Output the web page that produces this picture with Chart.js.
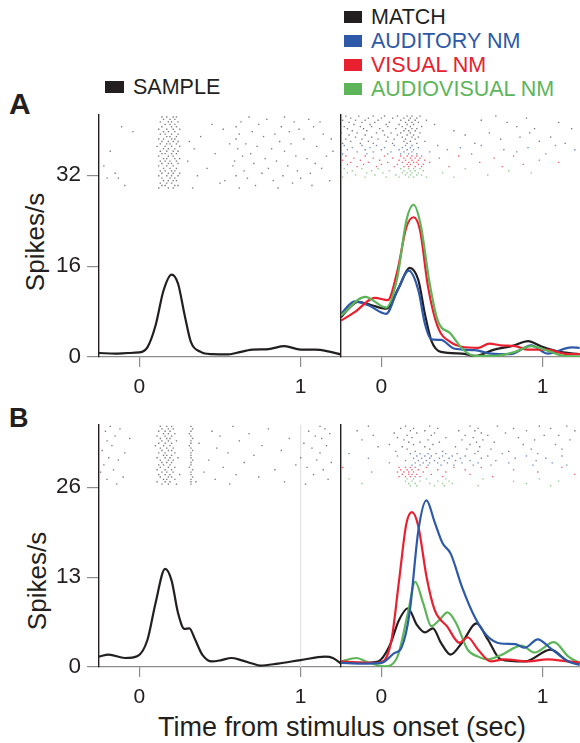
<!DOCTYPE html>
<html>
<head>
<meta charset="utf-8">
<script src="https://cdn.jsdelivr.net/npm/chart.js@4.4.1/dist/chart.umd.min.js"></script>
<style>
html,body{margin:0;padding:0;background:#fff;overflow:hidden;width:580px;height:743px;}
body{position:relative;font-family:"Liberation Sans",Arial,Helvetica,sans-serif;color:#231f20;}
canvas{position:absolute;}
.txt{position:absolute;white-space:nowrap;}
.key{position:absolute;font-size:21.5px;line-height:20px;white-space:nowrap;}
.key i{position:absolute;left:-27px;top:4px;width:18px;height:12px;}
.ytitle{position:absolute;font-size:26px;line-height:26px;white-space:nowrap;transform:translate(-50%,-50%) rotate(-90deg);}
</style>
</head>
<body>
<div class="txt" style="left:9px;top:89px;font-size:30px;line-height:30px;font-weight:bold;">A</div>
<div class="txt" style="left:9px;top:405px;font-size:27px;line-height:27px;font-weight:bold;">B</div>
<div class="ytitle" style="left:35px;top:242px;">Spikes/s</div>
<div class="ytitle" style="left:37px;top:581px;">Spikes/s</div>
<div class="txt" style="left:342px;top:714px;font-size:27px;line-height:27px;transform:translateX(-50%);">Time from stimulus onset (sec)</div>

<div class="key" style="left:133px;top:77px;"><i style="background:#231f20;left:-28px;width:19px;"></i>SAMPLE</div>
<div class="key" style="left:371px;top:7px;color:#231f20;"><i style="background:#231f20;"></i>MATCH</div>
<div class="key" style="left:371px;top:31px;color:#2d59a8;"><i style="background:#2d59a8;"></i>AUDITORY NM</div>
<div class="key" style="left:371px;top:55px;color:#e8202f;"><i style="background:#e8202f;"></i>VISUAL NM</div>
<div class="key" style="left:371px;top:79px;color:#5db55a;"><i style="background:#5db55a;"></i>AUDIOVISUAL NM</div>

<script>
// ---------- tick labels ----------
const timeTicks = [0, 1];
const rateTicksA = [0, 16, 32];
const rateTicksB = [0, 13, 26];
const stimulusOffset = 1;   // end of the stimulus window, marked in panel B

// ---------- spike-density curves (time in s, rate in spikes/s) ----------
// Neuron A, sample presentation
const tA_sample = [-0.25,-0.15,-0.07,0.0,0.05,0.1,0.15,0.2,0.24,0.28,0.32,0.38,0.45,0.55,0.6,0.7,0.8,0.9,1.0,1.09,1.17,1.25];
const vA_sample = [0.7,0.6,0.7,0.8,1.7,5.5,11.7,14.5,12.9,7.5,2.6,0.9,0.5,0.45,0.7,1.3,1.4,1.9,1.3,1.3,1.0,0.45];

// Neuron A, test presentation
const tA_match = [-0.25,-0.2,-0.145,-0.06,0.03,0.11,0.175,0.23,0.27,0.31,0.37,0.5,0.58,0.7,0.82,0.91,0.99,1.11,1.23];
const vA_match = [7.0,8.6,9.7,9.1,8.5,12.3,15.7,13.5,7.6,2.9,0.9,0.6,0.2,1.3,2.0,2.8,1.9,0.9,0.5];
const tA_aud = [-0.25,-0.165,-0.08,0.03,0.1,0.17,0.23,0.27,0.31,0.37,0.45,0.58,0.68,0.8,0.93,1.03,1.18,1.23];
const vA_aud = [7.6,9.8,9.1,7.6,11.7,15.2,11.7,5.9,3.1,3.0,1.5,1.2,0.6,0.5,2.05,0.6,1.7,1.6];
const tA_vis = [-0.25,-0.165,-0.04,0.04,0.1,0.155,0.2,0.24,0.29,0.35,0.43,0.5,0.6,0.67,0.74,0.83,0.91,1.03,1.13,1.23];
const vA_vis = [6.4,7.9,10.4,10.0,15.2,22.8,24.6,22.3,12.3,5.3,2.6,1.8,1.6,2.35,2.05,1.9,1.3,1.3,0.6,0.5];
const tA_av = [-0.25,-0.1,0.03,0.1,0.155,0.2,0.243,0.3,0.35,0.43,0.5,0.58,0.7,0.83,0.93,1.03,1.13,1.23];
const vA_av = [7.3,10.6,8.7,14.1,24.0,26.8,23.4,12.9,6.4,4.1,1.5,0.2,0.2,0.9,1.9,1.1,0.2,0.1];

// Neuron B, sample presentation
const tB_sample = [-0.25,-0.19,-0.09,-0.01,0.05,0.1,0.16,0.2,0.24,0.28,0.31,0.345,0.39,0.45,0.51,0.57,0.63,0.7,0.75,0.86,1.0,1.15,1.2,1.26];
const vB_sample = [1.5,1.8,1.3,1.6,3.9,9.2,14.2,12.5,7.8,5.5,5.6,4.0,1.8,0.8,1.0,1.3,1.0,0.5,0.2,0.5,1.0,1.5,1.3,0.3];

// Neuron B, test presentation
const tB_match = [-0.25,-0.12,-0.02,0.05,0.11,0.165,0.22,0.27,0.32,0.37,0.43,0.5,0.59,0.66,0.74,0.89,1.05,1.16,1.23];
const vB_match = [0.65,0.6,0.8,3.0,6.8,8.5,6.1,5.0,5.6,3.5,1.8,3.5,6.3,4.0,1.1,0.8,2.5,0.8,0.6];
const tB_aud = [-0.25,-0.12,0.0,0.08,0.125,0.175,0.23,0.28,0.33,0.38,0.43,0.5,0.58,0.66,0.74,0.83,0.89,0.97,1.05,1.16,1.23];
const vB_aud = [0.6,0.5,0.6,2.0,2.8,7.8,19.8,24.1,21.0,17.9,16.4,11.6,7.2,4.4,3.4,3.3,2.8,4.0,2.7,0.8,0.3];
const tB_vis = [-0.25,-0.12,-0.02,0.06,0.11,0.155,0.19,0.23,0.28,0.33,0.41,0.485,0.535,0.6,0.68,0.76,0.91,1.03,1.16,1.23];
const vB_vis = [0.8,0.65,0.6,3.5,12.5,20.7,22.4,20.3,13.1,8.3,5.8,3.5,4.3,2.5,0.8,1.1,0.8,1.1,0.8,0.65];
const tB_av = [-0.25,-0.155,-0.08,0.02,0.1,0.165,0.21,0.26,0.31,0.36,0.41,0.465,0.535,0.6,0.66,0.74,0.87,0.95,1.07,1.16,1.23];
const vB_av = [0.8,1.3,0.65,0.1,1.5,7.8,12.3,9.2,5.9,6.8,7.9,6.3,2.5,1.5,1.1,1.7,3.1,2.1,3.6,1.5,0.6];

// ---------- spike rasters: one array of spike times (s) per trial ----------
const rasterA_sample = [
  [0.14,0.17,0.21,0.23,0.68,0.9],[0.15,0.19,0.22,0.79,1.05],[0.13,0.18,0.2,0.24,0.63,0.96,1.12],
  [0.16,0.19,0.22,0.45,0.74],[-0.11,0.14,0.2,0.23,0.6,0.88,1.08],[0.12,0.17,0.21,0.25,0.52,0.99],
  [-0.04,0.15,0.18,0.22,0.7,0.93],[0.13,0.16,0.2,0.24,0.62,0.84,1.14],[0.17,0.19,0.23,0.38,0.77],
  [0.12,0.15,0.2,0.22,0.6,1.02,1.19],[0.14,0.18,0.21,0.24,0.31,0.87],[0.13,0.17,0.19,0.23,0.56,0.66,0.94],
  [0.11,0.16,0.2,0.25,0.73,1.1],[0.15,0.18,0.22,0.34,0.61,0.82],[-0.18,0.13,0.17,0.21,0.24,0.9,1.2],
  [0.14,0.16,0.2,0.23,0.47,0.69],[0.12,0.18,0.21,0.64,0.97,1.16],[0.15,0.17,0.22,0.25,0.78,1.04],
  [0.13,0.16,0.19,0.23,0.3,0.59,0.85],[0.14,0.18,0.2,0.24,0.71,1.09],[-0.22,0.12,0.17,0.21,0.58,0.92],
  [0.15,0.19,0.23,0.42,0.8,1.13],[0.13,0.16,0.2,0.22,0.65,0.98],[-0.15,0.14,0.18,0.21,0.25,0.76,1.06],
  [0.12,0.17,0.2,0.24,0.36,0.6,0.89],[-0.2,-0.13,0.14,0.19,0.22,0.67,1.0],[0.15,0.18,0.21,0.23,0.53,0.83,1.18],
  [0.13,0.17,0.2,0.5,0.95],[-0.09,0.14,0.16,0.22,0.24,0.72,1.07],[0.12,0.18,0.21,0.33,0.62,0.86]
];
const rasterA_match = [
  [-0.22,-0.14,-0.05,0.02,0.1,0.16,0.19,0.24,0.71],[-0.19,-0.08,0.0,0.07,0.14,0.18,0.22,0.9],
  [-0.24,-0.16,-0.1,-0.02,0.12,0.17,0.21,0.28,0.62],[-0.2,-0.12,-0.04,0.05,0.15,0.19,0.23,0.78,1.1],
  [-0.17,-0.07,0.03,0.11,0.16,0.2,0.33],[-0.23,-0.13,-0.06,0.04,0.13,0.18,0.25,0.84],
  [-0.21,-0.11,-0.01,0.09,0.15,0.19,0.22,0.95,1.18],[-0.18,-0.09,0.01,0.14,0.17,0.21,0.45],
  [-0.25,-0.15,-0.03,0.06,0.12,0.18,0.24,0.67,0.92],[-0.2,-0.1,0.02,0.1,0.16,0.2,0.52],
  [-0.16,-0.06,0.04,0.13,0.19,0.23,0.86,1.05],[-0.22,-0.12,-0.02,0.08,0.15,0.21,0.74],
  [-0.19,-0.08,0.03,0.14,0.18,0.27,0.98],[-0.24,-0.13,-0.05,0.07,0.16,0.22,0.58,1.14]
];
const rasterA_aud = [
  [-0.23,-0.12,-0.03,0.08,0.15,0.19,0.35,0.62,1.08],[-0.18,-0.07,0.02,0.13,0.18,0.23,0.49,0.91],
  [-0.21,-0.1,0.0,0.11,0.16,0.2,0.41,0.76,1.2],[-0.15,-0.05,0.06,0.14,0.19,0.3,0.84],
  [-0.24,-0.09,0.04,0.12,0.17,0.22,0.56,1.02]
];
const rasterA_vis = [
  [-0.22,-0.1,0.02,0.12,0.16,0.19,0.22,0.25,0.48,0.82],[-0.17,-0.05,0.07,0.14,0.18,0.21,0.24,0.36,0.7],
  [-0.24,-0.13,-0.01,0.11,0.15,0.19,0.23,0.27,0.98],[-0.19,-0.08,0.04,0.13,0.17,0.2,0.22,0.3,0.61,1.1],
  [-0.21,-0.11,0.0,0.1,0.16,0.18,0.23,0.26,0.88],[-0.15,-0.03,0.08,0.14,0.17,0.21,0.25,0.42,0.75]
];
const rasterA_av = [
  [-0.23,-0.12,-0.02,0.12,0.17,0.2,0.24,0.52],[-0.18,-0.06,0.05,0.14,0.18,0.21,0.26,0.79],
  [-0.21,-0.09,0.01,0.13,0.16,0.19,0.23,0.38,0.93],[-0.16,-0.04,0.09,0.15,0.18,0.22,0.25,0.66],
  [-0.24,-0.1,0.03,0.11,0.17,0.2,0.28,0.45]
];
const rasterB_sample = [
  [-0.18,0.13,0.17,0.2,0.32,0.58,1.12],[-0.12,0.14,0.18,0.21,0.33,0.8,1.15],[-0.21,0.12,0.16,0.19,0.32,0.45,1.05],
  [0.15,0.18,0.22,0.31,0.68,1.18],[-0.15,0.11,0.16,0.2,0.32,0.5,1.09],[-0.06,0.13,0.17,0.19,0.33,0.93,1.13],
  [-0.2,0.14,0.18,0.23,0.32,0.62],[0.12,0.16,0.2,0.32,0.37,1.02],[-0.17,0.1,0.15,0.19,0.31,0.76,1.16],
  [0.13,0.17,0.21,0.32,0.48,1.07],[-0.23,0.14,0.18,0.2,0.33,0.88],[-0.09,0.12,0.16,0.22,0.32,0.55,1.12],
  [0.15,0.17,0.2,0.32,0.71],[-0.19,0.11,0.16,0.19,0.24,0.32,1.0],[-0.13,0.13,0.18,0.21,0.33,0.43,1.1],
  [0.14,0.17,0.2,0.32,0.65,1.19],[-0.22,0.12,0.15,0.19,0.32,0.97],[0.13,0.18,0.22,0.31,0.52,1.04],
  [-0.16,0.11,0.16,0.2,0.33,0.84,1.14],[-0.24,0.14,0.17,0.21,0.32,0.4],[0.12,0.16,0.19,0.25,0.32,0.6,1.08],
  [-0.1,0.13,0.18,0.2,0.33,0.74],[-0.2,0.15,0.17,0.22,0.32,0.47,1.17],[0.11,0.16,0.19,0.32,0.35,0.9],
  [-0.14,0.14,0.18,0.23,0.32,0.56,1.03]
];
const rasterB_match = [
  [-0.08,0.15,0.3,0.55,0.72,0.98,1.15],[0.12,0.2,0.35,0.6,0.82,1.05],[-0.15,0.18,0.27,0.48,0.58,0.9,1.2],
  [0.08,0.22,0.33,0.62,0.77],[-0.05,0.16,0.31,0.52,0.66,1.01,1.1],[0.1,0.19,0.4,0.57,0.85],
  [-0.12,0.14,0.29,0.5,0.63,0.95,1.17],[0.17,0.24,0.36,0.59,0.7],[0.05,0.2,0.32,0.55,0.88,1.08],
  [-0.02,0.13,0.27,0.46,0.61],[0.16,0.3,0.53,0.68,0.93,1.12],[0.09,0.21,0.38,0.6,0.79]
];
const rasterB_aud = [
  [-0.2,0.18,0.24,0.29,0.34,0.4,0.47,0.58,0.75,0.97],[0.1,0.22,0.27,0.31,0.38,0.44,0.52,0.66,0.9,1.12],
  [-0.08,0.2,0.25,0.3,0.36,0.42,0.49,0.62,0.83,1.02],[0.15,0.23,0.28,0.33,0.39,0.46,0.55,0.71,0.96],
  [0.05,0.21,0.26,0.3,0.35,0.41,0.5,0.6,0.79,1.06],[0.19,0.24,0.29,0.37,0.45,0.57,0.68,0.94,1.15]
];
const rasterB_vis = [
  [-0.24,0.11,0.15,0.18,0.21,0.28,0.45,0.62,1.12],[0.12,0.16,0.19,0.23,0.35,0.52,0.82],
  [-0.06,0.1,0.14,0.17,0.2,0.26,0.4,0.97],[0.13,0.17,0.19,0.22,0.31,0.55,1.2],
  [0.11,0.15,0.18,0.21,0.24,0.38,0.69]
];
const rasterB_av = [
  [-0.2,0.16,0.2,0.28,0.4,0.63,0.98],[0.15,0.19,0.24,0.35,0.42,0.82,1.1],
  [-0.12,0.17,0.21,0.3,0.38,0.44,0.9],[0.18,0.22,0.33,0.39,0.6,1.05]
];

// ---------- styling ----------
const INK = '#231f20';
const AXIS_GREY = '#8c8c8c';
const COL = {match: '#231f20', aud: '#2d59a8', vis: '#e8202f', av: '#5db55a'};
const DOT = {match: 'rgba(35,31,32,0.6)', aud: 'rgba(45,89,168,0.7)', vis: 'rgba(232,32,47,0.7)', av: 'rgba(93,181,90,0.7)'};

Chart.defaults.font.family = '"Liberation Sans", Arial, Helvetica, sans-serif';
Chart.defaults.color = INK;

function curve(t, v, color, order) {
  return {
    type: 'line', yAxisID: 'y', order: order,
    data: t.map((x, i) => ({x: x, y: v[i]})),
    borderColor: color, borderWidth: 2.2, pointRadius: 0,
    cubicInterpolationMode: 'monotone', fill: false
  };
}

function rasterSets(groups) {
  let trial = 0;
  return groups.map(g => {
    const pts = [];
    g.trials.forEach(spikes => { spikes.forEach(s => pts.push({x: s, y: trial})); trial++; });
    return {
      type: 'scatter', yAxisID: 'trial', order: 10, data: pts,
      pointStyle: 'rect', pointRadius: 0.95, pointBorderWidth: 0,
      backgroundColor: g.color, borderWidth: 0, showLine: false
    };
  });
}

function panel(p) {
  const c = document.createElement('canvas');
  c.width = p.w; c.height = p.h;
  c.style.left = p.left + 'px'; c.style.top = p.top + 'px';
  c.style.width = p.w + 'px'; c.style.height = p.h + 'px';
  document.body.appendChild(c);

  const datasets = rasterSets(p.raster).concat(p.curves);
  if (p.marker !== undefined) {
    datasets.push({
      type: 'line', yAxisID: 'y', order: 20,
      data: [{x: p.marker, y: 0}, {x: p.marker, y: p.yMax}],
      borderColor: '#e4e4e4', borderWidth: 1.2, pointRadius: 0
    });
  }

  new Chart(c, {
    data: {datasets: datasets},
    options: {
      responsive: false, animation: false, devicePixelRatio: 1,
      layout: {autoPadding: false, padding: {top: 5, right: p.padRight, left: 0, bottom: 0}},
      plugins: {legend: {display: false}, tooltip: {enabled: false}},
      scales: {
        x: {
          type: 'linear', position: 'bottom', min: -0.25, max: p.xMax,
          afterBuildTicks: s => { s.ticks = timeTicks.map(v => ({value: v})); },
          afterFit: s => { s.height = 45; s.paddingLeft = 0; s.paddingRight = 0; },
          grid: {drawOnChartArea: false, drawTicks: true, tickLength: 10, color: AXIS_GREY, lineWidth: 1.2},
          border: {color: AXIS_GREY, width: 1.2},
          ticks: {font: {size: 21}, color: INK, padding: 8, maxRotation: 0, autoSkip: false}
        },
        y: {
          type: 'linear', position: 'left', min: 0, max: p.yMax,
          afterBuildTicks: s => { s.ticks = (p.yTicks || []).map(v => ({value: v})); },
          afterFit: s => { s.width = p.yWidth; s.paddingTop = 0; s.paddingBottom = 0; },
          grid: {display: !!p.yTicks, drawOnChartArea: false, drawTicks: !!p.yTicks, tickLength: 12, color: AXIS_GREY, lineWidth: 1.2},
          border: {color: INK, width: 1.4},
          ticks: {display: !!p.yTicks, font: {size: 22.5}, color: INK, padding: 6}
        },
        trial: {type: 'linear', display: false, reverse: true, min: p.trialMin, max: p.trialMax}
      }
    }
  });
}

// Panel A, sample epoch
panel({
  left: 0, top: 110, w: 345, h: 292, padRight: 4, yWidth: 99,
  xMax: 1.25, yMax: 42.6, yTicks: rateTicksA, trialMin: -0.8, trialMax: 98,
  raster: [{trials: rasterA_sample, color: DOT.match}],
  curves: [curve(tA_sample, vA_sample, COL.match, 1)]
});
// Panel A, test epoch
panel({
  left: 335, top: 110, w: 245, h: 292, padRight: 0, yWidth: 6,
  xMax: 1.232, yMax: 42.6, trialMin: -0.5, trialMax: 114.5,
  raster: [
    {trials: rasterA_match, color: DOT.match}, {trials: rasterA_aud, color: DOT.aud},
    {trials: rasterA_vis, color: DOT.vis}, {trials: rasterA_av, color: DOT.av}
  ],
  curves: [
    curve(tA_match, vA_match, COL.match, 4), curve(tA_aud, vA_aud, COL.aud, 3),
    curve(tA_vis, vA_vis, COL.vis, 2), curve(tA_av, vA_av, COL.av, 1)
  ]
});
// Panel B, sample epoch
panel({
  left: 0, top: 420, w: 345, h: 292, padRight: 4, yWidth: 99,
  xMax: 1.25, yMax: 35, yTicks: rateTicksB, trialMin: -0.6, trialMax: 100,
  marker: stimulusOffset,
  raster: [{trials: rasterB_sample, color: DOT.match}],
  curves: [curve(tB_sample, vB_sample, COL.match, 1)]
});
// Panel B, test epoch
panel({
  left: 335, top: 420, w: 245, h: 292, padRight: 0, yWidth: 6,
  xMax: 1.232, yMax: 35, trialMin: -0.5, trialMax: 105,
  raster: [
    {trials: rasterB_match, color: DOT.match}, {trials: rasterB_aud, color: DOT.aud},
    {trials: rasterB_vis, color: DOT.vis}, {trials: rasterB_av, color: DOT.av}
  ],
  curves: [
    curve(tB_match, vB_match, COL.match, 4), curve(tB_aud, vB_aud, COL.aud, 1),
    curve(tB_vis, vB_vis, COL.vis, 2), curve(tB_av, vB_av, COL.av, 3)
  ]
});
</script>
</body>
</html>
